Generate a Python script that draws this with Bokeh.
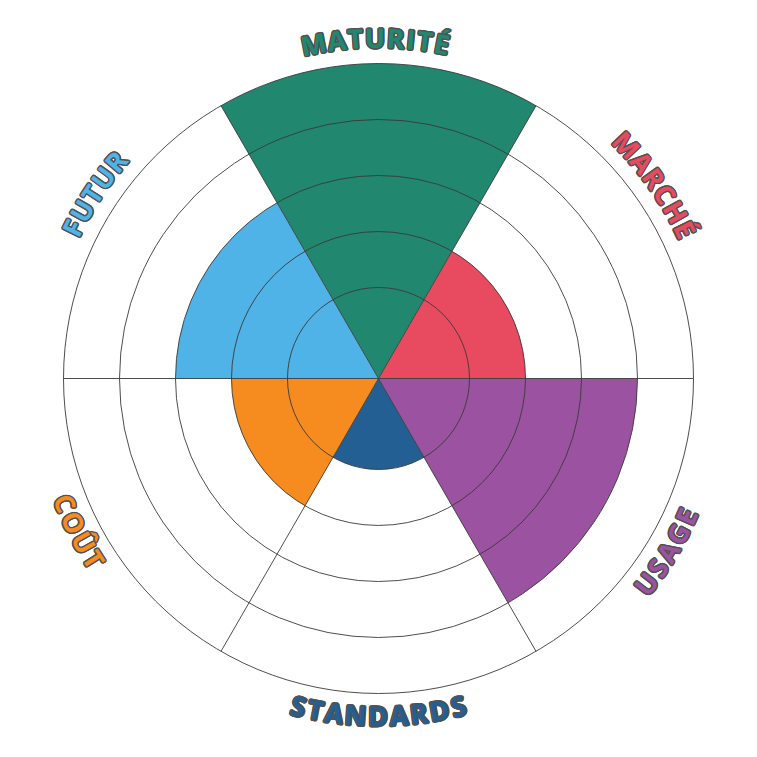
import math
from bokeh.plotting import figure
from bokeh.models import Range1d, ColumnDataSource
from bokeh.embed import file_html
from bokeh.resources import INLINE
from bokeh.core.properties import value

# ---- data ----
categories = ["MATURITÉ", "MARCHÉ", "USAGE", "STANDARDS", "COÛT", "FUTUR"]
scores = [5, 2, 4, 1, 2, 3]
colors = ["#21876F", "#E84A5F", "#9B52A0", "#245F94", "#F68B1F", "#4FB3E7"]
ring_values = [1, 2, 3, 4, 5]

# ---- layout constants ----
PX = 56.0            # pixels per value unit
INNER = 0.625        # radial offset (value units)
W = 756
half = W / 2 / PX
FS = 27              # label font size px
R_TOP = 341 / PX
R_BOT = 337 / PX
SPACING = 1.8        # extra px between letters
NUDGE_DEG = [0.5, 5.0, -1.0, 0.0, -3.0, -3.0]   # label placement tweaks

p = figure(width=W, height=W, output_backend="svg", toolbar_location=None,
           x_range=Range1d(-half, half), y_range=Range1d(-half, half),
           min_border=0, background_fill_color="white", border_fill_color="white")
p.axis.visible = False
p.grid.visible = False
p.outline_line_color = None

n = len(categories)
step = 2 * math.pi / n
centers = [math.pi / 2 - i * step for i in range(n)]
starts = [c - step / 2 for c in centers]
ends = [c + step / 2 for c in centers]
radii = [INNER + s for s in scores]

src = ColumnDataSource(dict(x=[0] * n, y=[0] * n, r=radii, s=starts, e=ends, c=colors))
p.wedge(x="x", y="y", radius="r", start_angle="s", end_angle="e", fill_color="c",
        line_color=None, source=src)

outer = INNER + max(ring_values)
p.circle(x=[0] * len(ring_values), y=[0] * len(ring_values),
         radius=[INNER + v for v in ring_values], fill_color=None,
         line_color="#3a3a3a", line_width=0.9)
spokes = [c + step / 2 for c in centers]
p.segment(x0=[0] * n, y0=[0] * n,
          x1=[outer * math.cos(a) for a in spokes], y1=[outer * math.sin(a) for a in spokes],
          line_color="#3a3a3a", line_width=0.9)

# ---- curved labels ----
CW = {"M": 0.92, "A": 0.68, "T": 0.58, "U": 0.74, "R": 0.66, "I": 0.34, "É": 0.57,
      "E": 0.57, "C": 0.65, "H": 0.76, "S": 0.58, "G": 0.73, "N": 0.78, "D": 0.74,
      "O": 0.78, "Û": 0.74, "F": 0.56}

xs, ys, chars, angs, cols = [], [], [], [], []
for cat, cen0, col, nd in zip(categories, centers, colors, NUDGE_DEG):
    cen = cen0 + math.radians(nd)
    top = math.sin(cen0) > 0.01
    LR = R_TOP if top else R_BOT
    widths = [(CW.get(ch, 0.65) * FS + SPACING) / PX for ch in cat]
    total = sum(widths) - SPACING / PX
    span = total / LR
    cum = 0.0
    for ch, w in zip(cat, widths):
        wc = w - SPACING / PX
        d = (cum + wc / 2) / LR
        if top:
            th = cen + span / 2 - d
            rot = th - math.pi / 2
        else:
            th = cen - span / 2 + d
            rot = th + math.pi / 2
        cum += w
        xs.append(LR * math.cos(th))
        ys.append(LR * math.sin(th))
        chars.append(ch)
        angs.append(rot)
        cols.append(col)

lsrc = ColumnDataSource(dict(x=xs, y=ys, t=chars, a=angs, c=cols))
o = 1.4
dirs = [(math.cos(k * math.pi / 6), math.sin(k * math.pi / 6)) for k in range(12)]
for dx, dy in dirs:
    p.text(x="x", y="y", text="t", angle="a", source=lsrc, x_offset=dx * o, y_offset=dy * o,
           text_color="#525252", text_font=value("Open Sans"), text_font_style="bold",
           text_font_size=f"{FS}px", text_align="center", text_baseline="middle")
p.text(x="x", y="y", text="t", angle="a", source=lsrc, text_color="c",
       text_font=value("Open Sans"), text_font_style="bold",
       text_font_size=f"{FS}px", text_align="center", text_baseline="middle")

open("out.html", "w").write(file_html(p, INLINE))
